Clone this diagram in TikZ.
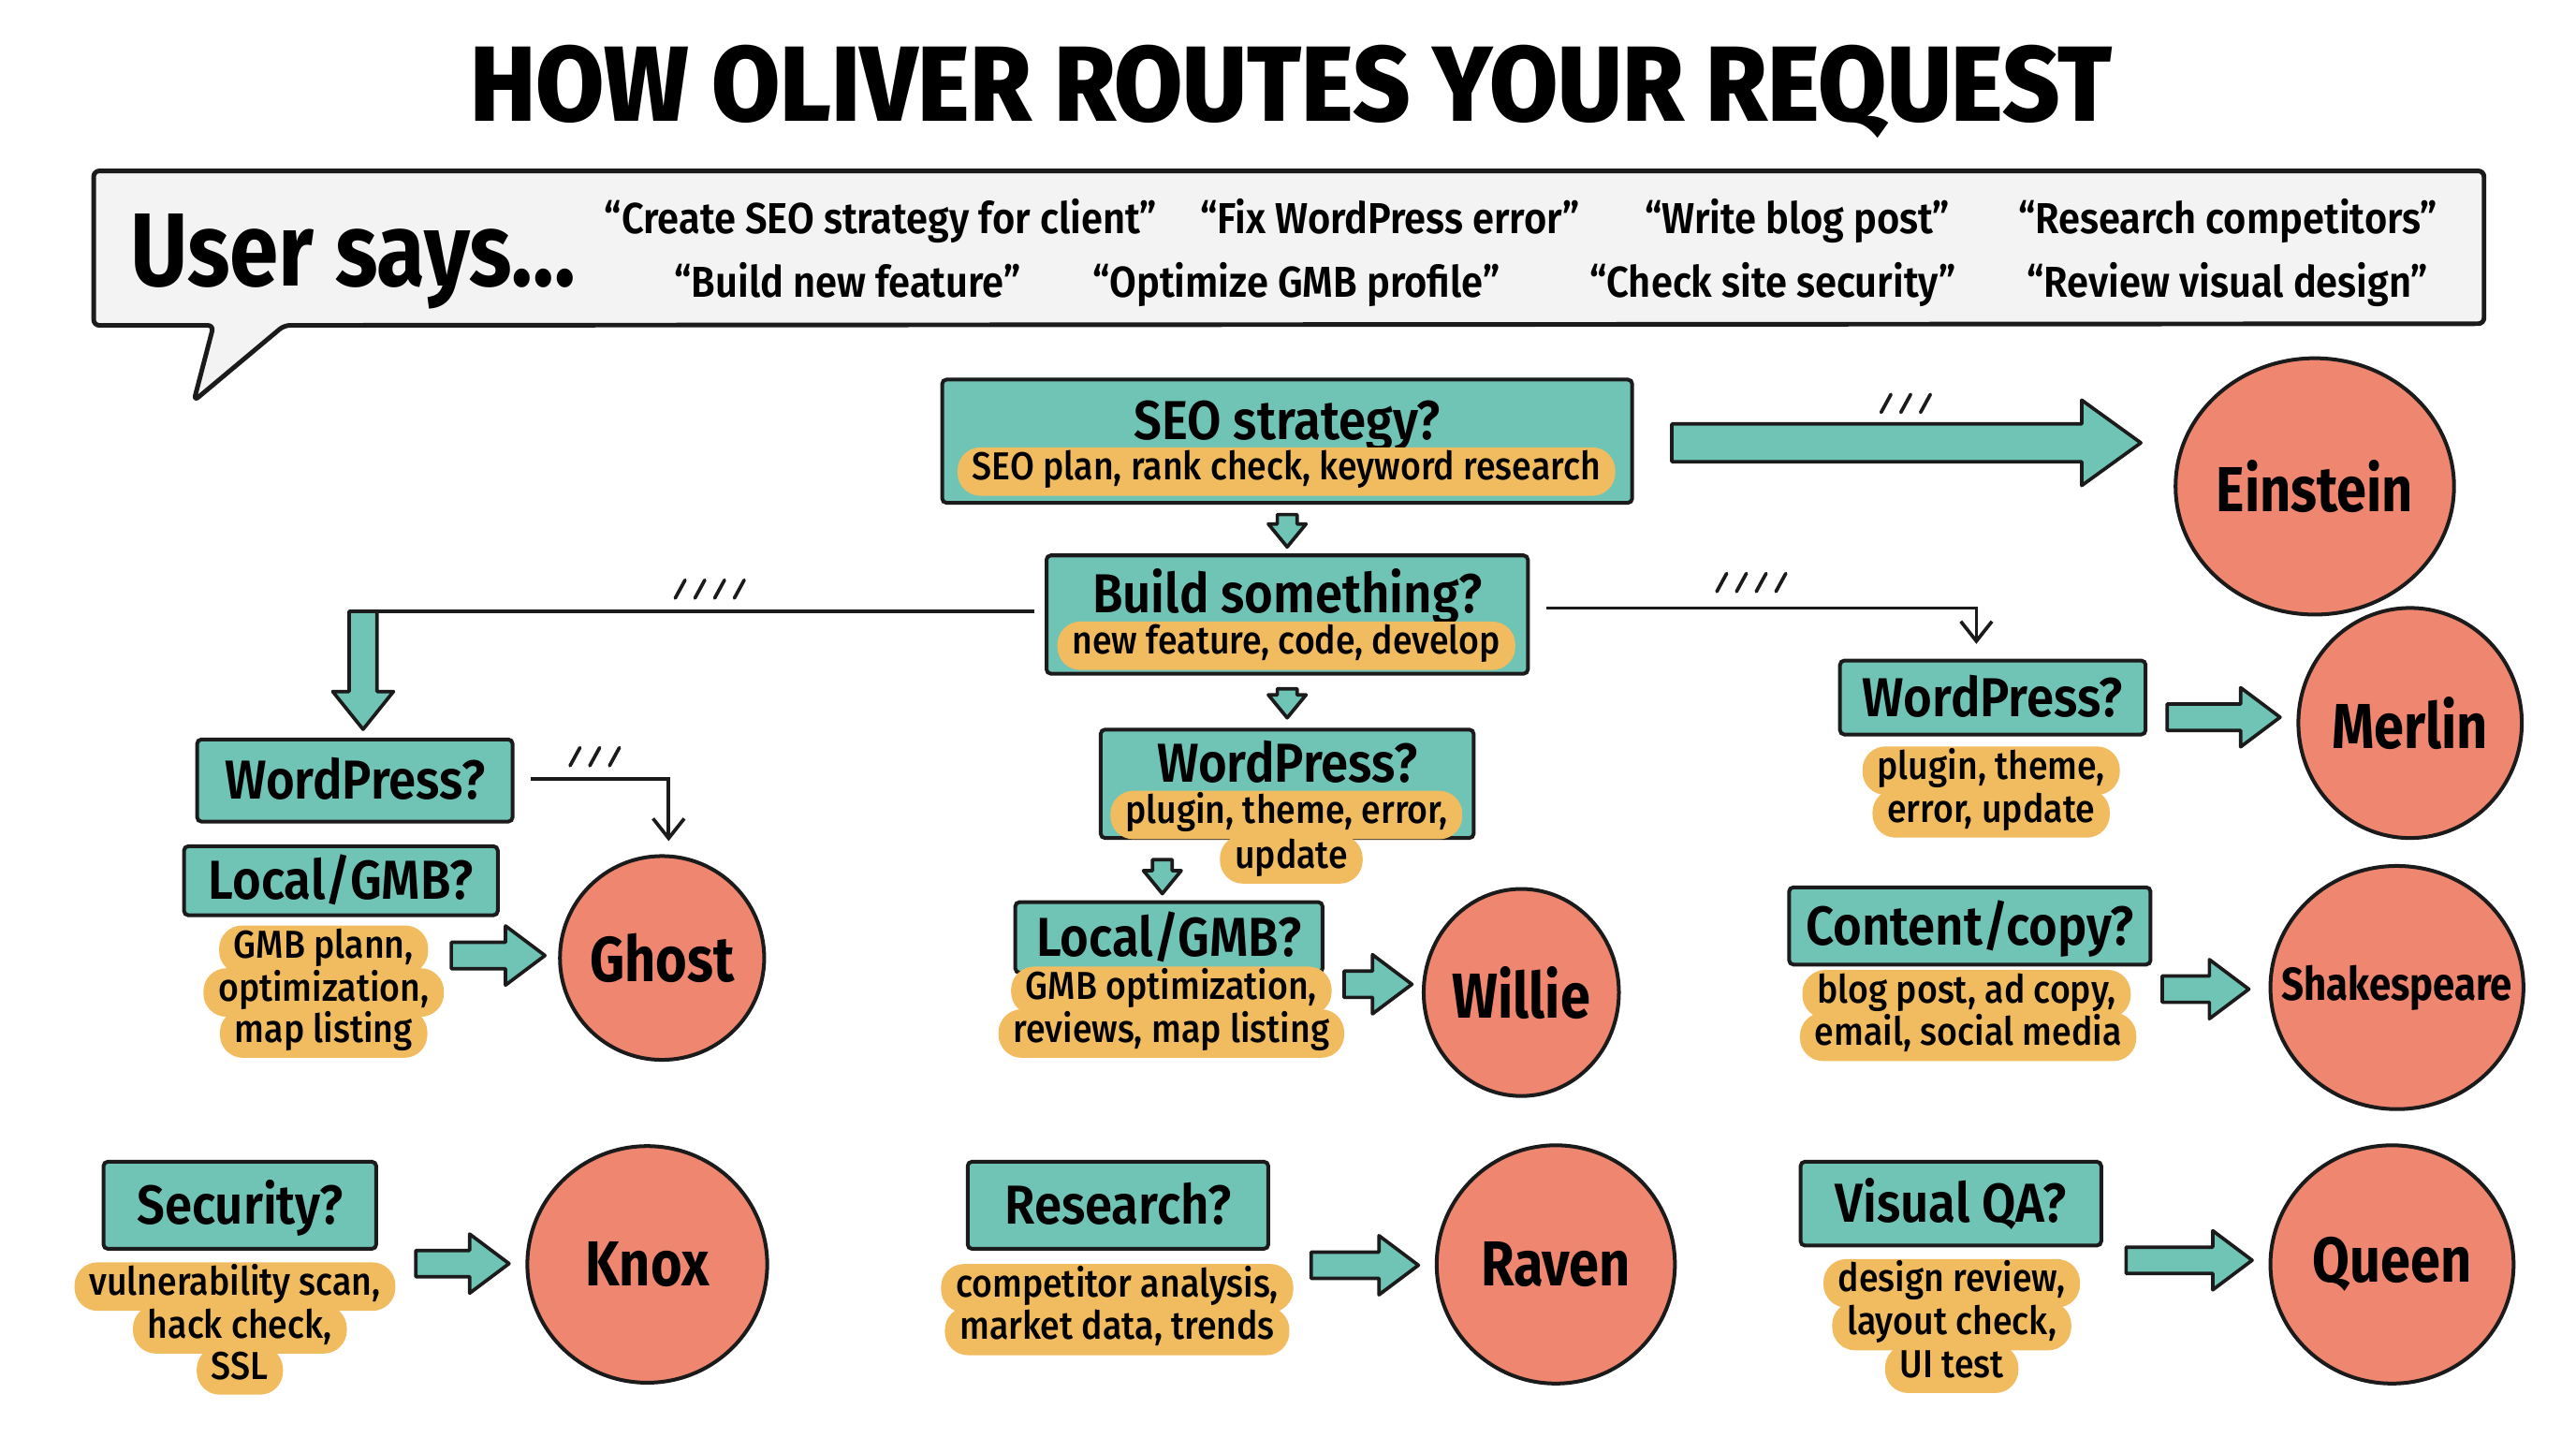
\documentclass[tikz,border=0pt]{standalone}
\usepackage{fontspec}
\setmainfont{Fira Sans}[FakeStretch=0.85]
\newfontfamily\heavyfont{Fira Sans ExtraBold}[FakeStretch=0.93]
\newfontfamily\semifont{Fira Sans SemiBold}[FakeStretch=0.9]
\newfontfamily\medfont{Fira Sans Medium}[FakeStretch=0.9]
\usepackage{tikz}
\usetikzlibrary{shapes.geometric, arrows.meta, positioning, calc}
\definecolor{ink}{HTML}{1B1B1B}
\definecolor{boxteal}{HTML}{70C4B6}
\definecolor{pillgold}{HTML}{F1BC5F}
\definecolor{agentred}{HTML}{EE8670}
\definecolor{bubblegray}{HTML}{F3F3F3}

% fat block arrows: start, end, shaft half, head half, head length
\newcommand{\fatright}[5]{%
  \draw[fatarr] let \p1=#1, \p2=#2 in
    (\x1,\y1+#3) -- (\x2-#5,\y1+#3) -- (\x2-#5,\y1+#4) -- (\x2,\y1)
    -- (\x2-#5,\y1-#4) -- (\x2-#5,\y1-#3) -- (\x1,\y1-#3) -- cycle;}
\newcommand{\fatdown}[5]{%
  \draw[fatarr] let \p1=#1, \p2=#2 in
    (\x1-#3,\y1) -- (\x1-#3,\y2+#5) -- (\x1-#4,\y2+#5) -- (\x1,\y2)
    -- (\x1+#4,\y2+#5) -- (\x1+#3,\y2+#5) -- (\x1+#3,\y1) -- cycle;}
\newcommand{\smallright}[2]{\fatright{#1}{#2}{1.6mm}{3.6mm}{4.8mm}}
\newcommand{\smalldown}[2]{\fatdown{#1}{#2}{1.2mm}{2.3mm}{2.8mm}}
% little motion strokes
\newcommand{\hatch}[3]{\foreach \k in {1,...,#3}{\draw[hatchline] ({#1+(\k-1)*12},{#2+11}) -- ++(6,-11);}}

\begin{document}
\begin{tikzpicture}[x=0.2mm, y=-0.2mm,
    qbox/.style={rectangle, draw=ink, fill=boxteal, line width=1.3pt, rounded corners=1.5pt,
                 inner sep=0pt, text height=4.6mm, text depth=0mm,
                 font=\semifont\fontsize{19}{20}\selectfont},
    pillin/.style={text depth=5.1mm},
    pill/.style={rectangle, fill=pillgold, rounded corners=2.8mm, inner xsep=1.8mm, inner ysep=1mm,
                 text height=3mm, text depth=0.9mm, font=\medfont\fontsize{13.5}{14}\selectfont},
    agent/.style={ellipse, draw=ink, fill=agentred, line width=1.3pt, inner sep=0pt,
                  font=\bfseries\fontsize{22}{24}\selectfont},
    said/.style={anchor=base, inner sep=0pt, font=\semifont\fontsize{15}{16}\selectfont},
    bubble/.style={draw=ink, fill=bubblegray, line width=1.6pt, line join=round, rounded corners=2pt},
    plain/.style={draw=ink, line width=1.2pt},
    thin/.style={plain, -{Straight Barb[length=2.4mm, width=3.8mm]}},
    fatarr/.style={draw=ink, fill=boxteal, line width=1.2pt, line join=round},
    hatchline/.style={draw=ink, line width=1.2pt, line cap=round}
]
\fill[white] (0,0) rectangle (1568,875);
\useasboundingbox (0,0) rectangle (1568,875);

% title
\node[anchor=base, font=\heavyfont\fontsize{37}{40}\selectfont] (title) at (786,74)
     {HOW OLIVER ROUTES YOUR REQUEST};

% speech bubble
\draw[bubble] (57,104) -- (1512,104) -- (1512,197) -- (173,198) -- (118,244)
              -- (130,198) -- (57,198) -- cycle;
\node[anchor=base west, inner sep=0pt, font=\bfseries\fontsize{36}{40}\selectfont] (usersays)
     at (79,174) {User says...};
\node[said] (q1) at (536,142)  {“Create SEO strategy for client”};
\node[said] (q2) at (846,142)  {“Fix WordPress error”};
\node[said] (q3) at (1094,142) {“Write blog post”};
\node[said] (q4) at (1356,142) {“Research competitors”};
\node[said] (q5) at (516,181)  {“Build new feature”};
\node[said] (q6) at (789,181)  {“Optimize GMB profile”};
\node[said] (q7) at (1079,181) {“Check site security”};
\node[said] (q8) at (1356,181) {“Review visual design”};

% main column
\node[qbox, pillin, minimum width=84mm, minimum height=15mm] (seo) at (783.5,268.5) {SEO strategy?};
\node[pill] (seop) at (783,287) {SEO plan, rank check, keyword research};
\node[qbox, pillin, minimum width=58.6mm, minimum height=14.4mm] (build) at (783.5,374) {Build something?};
\node[pill] (buildp) at (783,393) {new feature, code, develop};
\node[qbox, pillin, minimum width=45.4mm, minimum height=13.2mm] (wpm) at (783.5,477) {WordPress?};
\node[pill] (wpmp1) at (783,496) {plugin, theme, error,};
\node[pill] (wpmp2) at (786,523) {update};
\node[qbox, minimum width=37.4mm, minimum height=8.6mm] (lgm) at (711.5,570.5) {Local/GMB?};
\node[pill] (lgmp1) at (713,603) {GMB optimization,};
\node[pill] (lgmp2) at (713,629) {reviews, map listing};

% left column
\node[qbox, minimum width=38.4mm, minimum height=10mm] (wpl) at (216,475) {WordPress?};
\node[qbox, minimum width=38.2mm, minimum height=8.4mm] (lgl) at (207.5,536) {Local/GMB?};
\node[pill] (lglp1) at (197,578) {GMB plann,};
\node[pill] (lglp2) at (197,604) {optimization,};
\node[pill] (lglp3) at (197,629) {map listing};

% right column
\node[qbox, minimum width=37.2mm, minimum height=9mm] (wpr) at (1213,424.5) {WordPress?};
\node[pill] (wprp1) at (1212,469) {plugin, theme,};
\node[pill] (wprp2) at (1212,495) {error, update};
\node[qbox, minimum width=44mm, minimum height=9.4mm] (ccr) at (1199,563.5) {Content/copy?};
\node[pill] (ccrp1) at (1197,605) {blog post, ad copy,};
\node[pill] (ccrp2) at (1198,631) {email, social media};

% bottom row
\node[qbox, minimum width=33.2mm, minimum height=10.6mm] (sec) at (146,733.5) {Security?};
\node[pill] (secp1) at (143,783) {vulnerability scan,};
\node[pill] (secp2) at (146,809) {hack check,};
\node[pill] (secp3) at (146,834) {SSL};
\node[qbox, minimum width=36.6mm, minimum height=10.6mm] (res) at (680.5,733.5) {Research?};
\node[pill] (resp1) at (680,784) {competitor analysis,};
\node[pill] (resp2) at (680,810) {market data, trends};
\node[qbox, minimum width=36.6mm, minimum height=10.2mm] (vqa) at (1187.5,732.5) {Visual QA?};
\node[pill] (vqap1) at (1188,781) {design review,};
\node[pill] (vqap2) at (1188,807) {layout check,};
\node[pill] (vqap3) at (1188,833) {UI test};

% agents
\node[agent, minimum width=31.2mm, minimum height=31.2mm] (einstein) at (1409,296) {Einstein};
\node[agent, minimum width=27.2mm, minimum height=28mm] (merlin) at (1467,440) {Merlin};
\node[agent, minimum width=24.8mm, minimum height=24.8mm] (ghost) at (403,583) {Ghost};
\node[agent, minimum width=22.8mm, minimum height=25.2mm] (willie) at (926,604) {Willie};
\node[agent, minimum width=30.8mm, minimum height=29.6mm, inner xsep=-4mm,
      font=\bfseries\fontsize{16}{18}\selectfont] (shakespeare) at (1459,601) {Shakespeare};
\node[agent, minimum width=29.2mm, minimum height=28.8mm] (knox) at (394,769.5) {Knox};
\node[agent, minimum width=29mm, minimum height=29mm] (raven) at (947,769.5) {Raven};
\node[agent, minimum width=29.6mm, minimum height=29mm] (queen) at (1456,769.5) {Queen};

% connectors
\coordinate (bl) at (221,372);
\draw[plain] ($(build.west)+(-6,-2)$) -- (bl);
\fatdown{(bl)}{($(wpl.north)+(0,-5)$)}{1.7mm}{3.7mm}{4.6mm}
\draw[thin] ($(build.east)+(10,-4)$) -| ($(wpr.north)+(-10,-9)$);
\draw[thin] ($(wpl.east)+(10,-1)$) -| ($(ghost.north)+(4,-8)$);

\fatright{($(seo.east)+(23,1)$)}{($(einstein.west)+(-20,0)$)}{2.3mm}{5.2mm}{7.2mm}
\smalldown{($(seo.south)+(0,6)$)}{($(build.north)+(0,-4)$)}
\smalldown{($(build.south)+(0,8)$)}{($(wpm.north)+(0,-6)$)}
\smalldown{($(wpm.south -| lgm.north)+(-4,12)$)}{($(lgm.north)+(-4,-4)$)}

\smallright{($(ghost.west)+(-65,-1.5)$)}{($(ghost.west)+(-8,0)$)}
\smallright{($(lgm.east)+(12,28.5)$)}{($(willie.west)+(-6,0)$)}
\smallright{($(wpr.east)+(12,12)$)}{($(merlin.west)+(-10,0)$)}
\smallright{($(ccr.east)+(6,38.5)$)}{($(shakespeare.west)+(-12,0)$)}
\smallright{($(sec.east)+(23,35.5)$)}{($(knox.west)+(-10,0)$)}
\smallright{($(res.east)+(25,36.5)$)}{($(raven.west)+(-10,0)$)}
\smallright{($(vqa.east)+(14,34.5)$)}{($(queen.west)+(-10,0)$)}

% motion strokes
\hatch{411}{353}{4}
\hatch{1045}{349}{4}
\hatch{1145}{240}{3}
\hatch{347}{455}{3}
\end{tikzpicture}
\end{document}
